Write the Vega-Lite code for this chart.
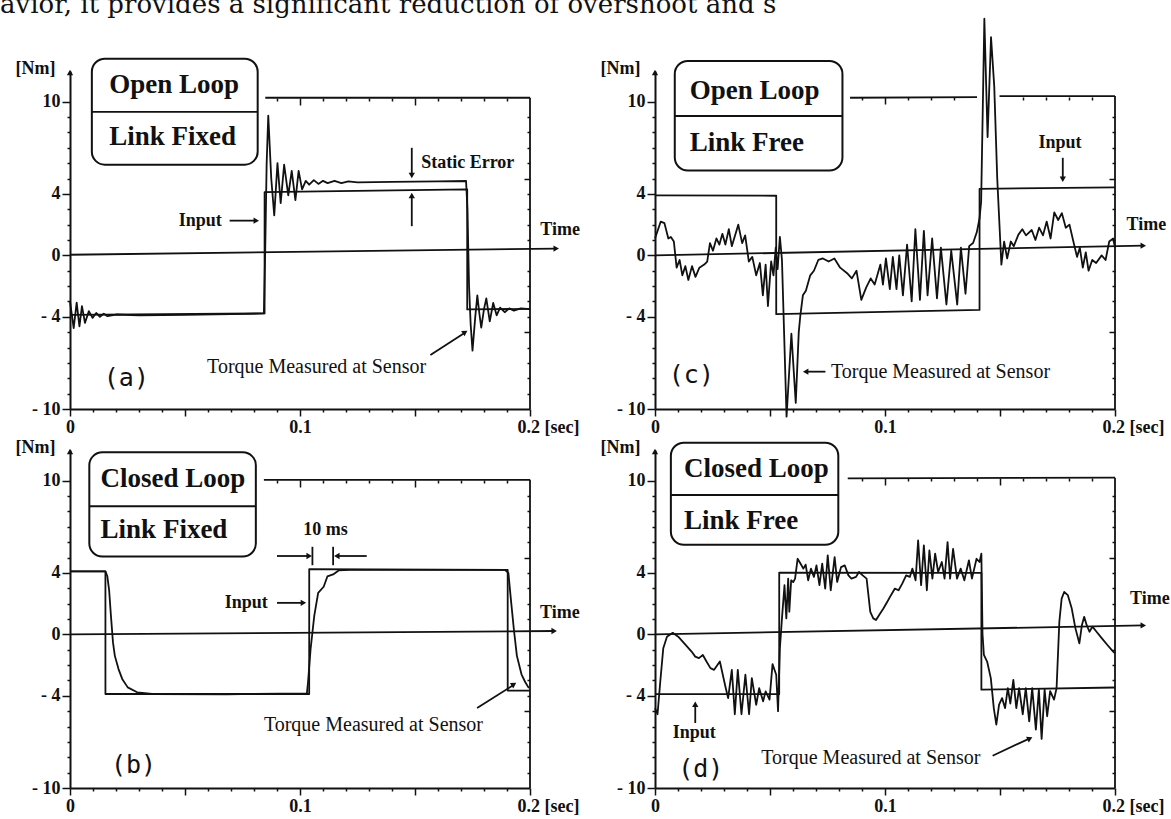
{
"$schema":"https://vega.github.io/schema/vega-lite/v6.json",
"autosize":{"type":"pad"},
"padding":{"left":0,"top":-8,"right":0,"bottom":0},
"background":"white",
"config":{"view":{"stroke":null},"font":"Liberation Serif",
"axis":{"domainColor":"#111","domainWidth":2,"tickColor":"#111","tickWidth":1.5,"labelFont":"Liberation Serif","labelFontWeight":"bold","labelFontSize":18,"labelColor":"#111","grid":false,"titleFont":"Liberation Serif","titleFontSize":18,"titleFontWeight":"bold","titleColor":"#111"}},
"datasets":{
"hdr":[{"t":-0.0304,"v":17.14,"label":"avior, it provides a significant reduction of overshoot and s"}],
"box":[
{"p":"a","t":0.0095,"v":12.8,"t2":0.0816,"v2":5.9},
{"p":"c","t":0.0086,"v":12.65,"t2":0.0815,"v2":5.52},
{"p":"b","t":0.0084,"v":11.85,"t2":0.0808,"v2":5.06},
{"p":"d","t":0.0069,"v":12.48,"t2":0.0797,"v2":5.83}],
"rules":[
{"p":"a","t":0,"v":0.04,"t2":0.2114,"v2":0.44},
{"p":"a","t":0.0849,"v":10.26,"t2":0.2,"v2":10.26},
{"p":"a","t":0.2,"v":10.26,"t2":0.2,"v2":-10},
{"p":"a","t":0.0095,"v":9.34,"t2":0.0816,"v2":9.34},
{"p":"a","t":0.0694,"v":2.26,"t2":0.0805,"v2":2.26},
{"p":"a","t":0.1486,"v":7.0,"t2":0.1486,"v2":5.3},
{"p":"a","t":0.1486,"v":1.9,"t2":0.1486,"v2":3.8},
{"p":"a","t":0.1567,"v":-6.48,"t2":0.1715,"v2":-5.05},
{"p":"c","t":0,"v":0,"t2":0.2123,"v2":0.63},
{"p":"c","t":0.0848,"v":10.26,"t2":0.14,"v2":10.3},
{"p":"c","t":0.1498,"v":10.37,"t2":0.2,"v2":10.37},
{"p":"c","t":0.2,"v":10.37,"t2":0.2,"v2":-10},
{"p":"c","t":0.0086,"v":9.07,"t2":0.0815,"v2":9.07},
{"p":"c","t":0.1773,"v":6.35,"t2":0.1773,"v2":5.1},
{"p":"c","t":0.0741,"v":-7.57,"t2":0.066,"v2":-7.57},
{"p":"b","t":0,"v":0,"t2":0.2105,"v2":0.22},
{"p":"b","t":0.0843,"v":10.06,"t2":0.2,"v2":10.06},
{"p":"b","t":0.2,"v":10.06,"t2":0.2,"v2":-10},
{"p":"b","t":0.0084,"v":8.34,"t2":0.0808,"v2":8.34},
{"p":"b","t":0.09,"v":2.05,"t2":0.101,"v2":2.05},
{"p":"b","t":0.09,"v":5.1,"t2":0.1035,"v2":5.1},
{"p":"b","t":0.1054,"v":5.7,"t2":0.1054,"v2":4.5},
{"p":"b","t":0.1144,"v":5.7,"t2":0.1144,"v2":4.5},
{"p":"b","t":0.129,"v":5.1,"t2":0.1165,"v2":5.1},
{"p":"b","t":0.177,"v":-4.8,"t2":0.1928,"v2":-3.3},
{"p":"d","t":0,"v":0,"t2":0.2123,"v2":0.58},
{"p":"d","t":0.0838,"v":10.15,"t2":0.2,"v2":10.2},
{"p":"d","t":0.2,"v":10.2,"t2":0.2,"v2":-10},
{"p":"d","t":0.0069,"v":9.07,"t2":0.0797,"v2":9.07},
{"p":"d","t":0.0175,"v":-5.77,"t2":0.0175,"v2":-4.7},
{"p":"d","t":0.1468,"v":-7.9,"t2":0.1625,"v2":-6.8}],
"heads":[
{"p":"a","d":"u","t":0,"v":11.9},{"p":"a","d":"r","t":0.2114,"v":0.44},{"p":"a","d":"r","t":0.081,"v":2.26},{"p":"a","d":"d","t":0.1486,"v":5.2},{"p":"a","d":"u","t":0.1486,"v":3.9},{"p":"a","d":"ur","t":0.1718,"v":-5.0},
{"p":"c","d":"u","t":0,"v":11.9},{"p":"c","d":"r","t":0.2123,"v":0.63},{"p":"c","d":"d","t":0.1773,"v":4.95},{"p":"c","d":"l","t":0.0655,"v":-7.57},
{"p":"b","d":"u","t":0,"v":11.9},{"p":"b","d":"r","t":0.2105,"v":0.22},{"p":"b","d":"r","t":0.1015,"v":2.05},{"p":"b","d":"r","t":0.104,"v":5.1},{"p":"b","d":"l","t":0.116,"v":5.1},{"p":"b","d":"ur","t":0.193,"v":-3.25},
{"p":"d","d":"u","t":0,"v":11.9},{"p":"d","d":"r","t":0.2123,"v":0.58},{"p":"d","d":"u","t":0.0175,"v":-4.55},{"p":"d","d":"ur","t":0.163,"v":-6.77}],
"txt":[
{"p":"a","k":"box","t":0.0171,"v":11.1,"label":"Open Loop"},{"p":"a","k":"box","t":0.0171,"v":7.7,"label":"Link Fixed"},
{"p":"a","k":"ann","t":0.1527,"v":6.04,"label":"Static Error"},{"p":"a","k":"ann","t":0.0473,"v":2.26,"label":"Input"},{"p":"a","k":"ann","t":0.2045,"v":1.65,"label":"Time"},
{"p":"a","k":"tq","t":0.0596,"v":-7.25,"label":"Torque Measured at Sensor"},{"p":"a","k":"let","t":0.0147,"v":-8.0,"label":"(a)"},
{"p":"c","k":"box","t":0.0151,"v":10.7,"label":"Open Loop"},{"p":"c","k":"box","t":0.0151,"v":7.3,"label":"Link Free"},
{"p":"c","k":"ann","t":0.1667,"v":7.3,"label":"Input"},{"p":"c","k":"ann","t":0.205,"v":2.0,"label":"Time"},
{"p":"c","k":"tq","t":0.0765,"v":-7.57,"label":"Torque Measured at Sensor"},{"p":"c","k":"let","t":0.006,"v":-7.8,"label":"(c)"},
{"p":"b","k":"box","t":0.0133,"v":10.1,"label":"Closed Loop"},{"p":"b","k":"box","t":0.0133,"v":6.8,"label":"Link Fixed"},
{"p":"b","k":"ann","t":0.1014,"v":6.8,"label":"10 ms"},{"p":"b","k":"ann","t":0.0673,"v":2.05,"label":"Input"},{"p":"b","k":"ann","t":0.2044,"v":1.4,"label":"Time"},
{"p":"b","k":"tq","t":0.0843,"v":-5.93,"label":"Torque Measured at Sensor"},{"p":"b","k":"let","t":0.0178,"v":-8.5,"label":"(b)"},
{"p":"d","k":"box","t":0.0126,"v":10.76,"label":"Closed Loop"},{"p":"d","k":"box","t":0.0126,"v":7.41,"label":"Link Free"},
{"p":"d","k":"ann","t":0.0077,"v":-6.41,"label":"Input"},{"p":"d","k":"ann","t":0.2065,"v":2.33,"label":"Time"},
{"p":"d","k":"tq","t":0.0462,"v":-8.03,"label":"Torque Measured at Sensor"},{"p":"d","k":"let","t":0.0101,"v":-8.79,"label":"(d)"}],
"sig":[
{"p":"a","s":"in","t":0,"v":-3.87},{"p":"a","s":"in","t":0.0846,"v":-3.78},{"p":"a","s":"in","t":0.08461,"v":4.11},{"p":"a","s":"in","t":0.1727,"v":4.29},{"p":"a","s":"in","t":0.17271,"v":-3.52},{"p":"a","s":"in","t":0.2,"v":-3.48},
{"p":"a","s":"tq","t":0,"v":-3.0},{"p":"a","s":"tq","t":0.0016,"v":-4.73},{"p":"a","s":"tq","t":0.0029,"v":-3.08},{"p":"a","s":"tq","t":0.0041,"v":-4.62},{"p":"a","s":"tq","t":0.0052,"v":-3.3},{"p":"a","s":"tq","t":0.0065,"v":-4.4},{"p":"a","s":"tq","t":0.0082,"v":-3.63},{"p":"a","s":"tq","t":0.0098,"v":-4.07},{"p":"a","s":"tq","t":0.0114,"v":-3.75},{"p":"a","s":"tq","t":0.013,"v":-4.0},{"p":"a","s":"tq","t":0.0147,"v":-3.8},{"p":"a","s":"tq","t":0.0163,"v":-3.96},{"p":"a","s":"tq","t":0.02,"v":-3.85},{"p":"a","s":"tq","t":0.03,"v":-3.9},{"p":"a","s":"tq","t":0.05,"v":-3.88},{"p":"a","s":"tq","t":0.07,"v":-3.82},{"p":"a","s":"tq","t":0.0843,"v":-3.78},{"p":"a","s":"tq","t":0.0849,"v":0.5},{"p":"a","s":"tq","t":0.0855,"v":6.0},{"p":"a","s":"tq","t":0.0862,"v":9.1},{"p":"a","s":"tq","t":0.0875,"v":5.0},{"p":"a","s":"tq","t":0.0888,"v":2.6},{"p":"a","s":"tq","t":0.0902,"v":6.0},{"p":"a","s":"tq","t":0.0916,"v":3.4},{"p":"a","s":"tq","t":0.0931,"v":5.9},{"p":"a","s":"tq","t":0.0949,"v":3.9},{"p":"a","s":"tq","t":0.0964,"v":5.5},{"p":"a","s":"tq","t":0.098,"v":3.6},{"p":"a","s":"tq","t":0.0994,"v":5.5},{"p":"a","s":"tq","t":0.1009,"v":4.3},{"p":"a","s":"tq","t":0.1025,"v":4.85},{"p":"a","s":"tq","t":0.104,"v":4.6},{"p":"a","s":"tq","t":0.106,"v":4.9},{"p":"a","s":"tq","t":0.108,"v":4.65},{"p":"a","s":"tq","t":0.11,"v":4.85},{"p":"a","s":"tq","t":0.112,"v":4.7},{"p":"a","s":"tq","t":0.115,"v":4.85},{"p":"a","s":"tq","t":0.118,"v":4.7},{"p":"a","s":"tq","t":0.121,"v":4.82},{"p":"a","s":"tq","t":0.125,"v":4.75},{"p":"a","s":"tq","t":0.14,"v":4.78},{"p":"a","s":"tq","t":0.16,"v":4.82},{"p":"a","s":"tq","t":0.1722,"v":4.84},{"p":"a","s":"tq","t":0.1728,"v":3.0},{"p":"a","s":"tq","t":0.1735,"v":-2.0},{"p":"a","s":"tq","t":0.1742,"v":-4.5},{"p":"a","s":"tq","t":0.175,"v":-6.2},{"p":"a","s":"tq","t":0.1762,"v":-4.0},{"p":"a","s":"tq","t":0.1771,"v":-2.6},{"p":"a","s":"tq","t":0.178,"v":-3.8},{"p":"a","s":"tq","t":0.1788,"v":-4.7},{"p":"a","s":"tq","t":0.18,"v":-3.5},{"p":"a","s":"tq","t":0.181,"v":-2.8},{"p":"a","s":"tq","t":0.1825,"v":-4.3},{"p":"a","s":"tq","t":0.184,"v":-3.1},{"p":"a","s":"tq","t":0.1855,"v":-3.9},{"p":"a","s":"tq","t":0.187,"v":-3.4},{"p":"a","s":"tq","t":0.189,"v":-3.7},{"p":"a","s":"tq","t":0.191,"v":-3.45},{"p":"a","s":"tq","t":0.193,"v":-3.6},{"p":"a","s":"tq","t":0.196,"v":-3.45},{"p":"a","s":"tq","t":0.2,"v":-3.5},
{"p":"c","s":"in","t":0,"v":3.9},{"p":"c","s":"in","t":0.0527,"v":3.88},{"p":"c","s":"in","t":0.05271,"v":-3.83},{"p":"c","s":"in","t":0.1411,"v":-3.55},{"p":"c","s":"in","t":0.14111,"v":4.33},{"p":"c","s":"in","t":0.2,"v":4.43},
{"p":"c","s":"tq","t":0,"v":1.1},{"p":"c","s":"tq","t":0.0025,"v":2.2},{"p":"c","s":"tq","t":0.0041,"v":2.1},{"p":"c","s":"tq","t":0.0058,"v":1.1},{"p":"c","s":"tq","t":0.0069,"v":1.2},{"p":"c","s":"tq","t":0.0082,"v":0.9},{"p":"c","s":"tq","t":0.0094,"v":-0.8},{"p":"c","s":"tq","t":0.0107,"v":-0.3},{"p":"c","s":"tq","t":0.0119,"v":-1.3},{"p":"c","s":"tq","t":0.0132,"v":-0.7},{"p":"c","s":"tq","t":0.0145,"v":-1.6},{"p":"c","s":"tq","t":0.0161,"v":-0.7},{"p":"c","s":"tq","t":0.0176,"v":-1.4},{"p":"c","s":"tq","t":0.0193,"v":-0.8},{"p":"c","s":"tq","t":0.0214,"v":-0.6},{"p":"c","s":"tq","t":0.0227,"v":-0.4},{"p":"c","s":"tq","t":0.0239,"v":0.8},{"p":"c","s":"tq","t":0.0252,"v":0.3},{"p":"c","s":"tq","t":0.0267,"v":1.1},{"p":"c","s":"tq","t":0.028,"v":0.7},{"p":"c","s":"tq","t":0.0293,"v":1.4},{"p":"c","s":"tq","t":0.0306,"v":0.7},{"p":"c","s":"tq","t":0.0321,"v":1.7},{"p":"c","s":"tq","t":0.0334,"v":0.6},{"p":"c","s":"tq","t":0.0362,"v":2.0},{"p":"c","s":"tq","t":0.0379,"v":0.8},{"p":"c","s":"tq","t":0.0392,"v":1.3},{"p":"c","s":"tq","t":0.0408,"v":-0.4},{"p":"c","s":"tq","t":0.0423,"v":-0.1},{"p":"c","s":"tq","t":0.044,"v":-1.3},{"p":"c","s":"tq","t":0.0456,"v":-0.5},{"p":"c","s":"tq","t":0.0469,"v":-2.6},{"p":"c","s":"tq","t":0.0481,"v":-0.6},{"p":"c","s":"tq","t":0.0491,"v":-3.3},{"p":"c","s":"tq","t":0.0505,"v":-0.4},{"p":"c","s":"tq","t":0.0515,"v":-1.3},{"p":"c","s":"tq","t":0.0525,"v":0.5},{"p":"c","s":"tq","t":0.0533,"v":-0.9},{"p":"c","s":"tq","t":0.0543,"v":1.2},{"p":"c","s":"tq","t":0.0552,"v":-0.3},{"p":"c","s":"tq","t":0.0572,"v":-10.5},{"p":"c","s":"tq","t":0.0593,"v":-5.1},{"p":"c","s":"tq","t":0.0612,"v":-9.6},{"p":"c","s":"tq","t":0.0625,"v":-5.0},{"p":"c","s":"tq","t":0.0632,"v":-3.9},{"p":"c","s":"tq","t":0.0643,"v":-2.6},{"p":"c","s":"tq","t":0.0656,"v":-2.3},{"p":"c","s":"tq","t":0.0675,"v":-1.3},{"p":"c","s":"tq","t":0.0691,"v":-1.0},{"p":"c","s":"tq","t":0.071,"v":-0.3},{"p":"c","s":"tq","t":0.073,"v":-0.2},{"p":"c","s":"tq","t":0.0755,"v":-0.4},{"p":"c","s":"tq","t":0.078,"v":-0.2},{"p":"c","s":"tq","t":0.0805,"v":-0.8},{"p":"c","s":"tq","t":0.0838,"v":-1.2},{"p":"c","s":"tq","t":0.0856,"v":-1.5},{"p":"c","s":"tq","t":0.0876,"v":-1.0},{"p":"c","s":"tq","t":0.0897,"v":-2.9},{"p":"c","s":"tq","t":0.0918,"v":-2.1},{"p":"c","s":"tq","t":0.0938,"v":-1.5},{"p":"c","s":"tq","t":0.0955,"v":-1.9},{"p":"c","s":"tq","t":0.098,"v":-0.6},{"p":"c","s":"tq","t":0.0991,"v":-1.9},{"p":"c","s":"tq","t":0.1004,"v":-0.2},{"p":"c","s":"tq","t":0.1021,"v":-2.2},{"p":"c","s":"tq","t":0.1034,"v":-0.1},{"p":"c","s":"tq","t":0.105,"v":-2.2},{"p":"c","s":"tq","t":0.1062,"v":0.0},{"p":"c","s":"tq","t":0.1078,"v":-2.6},{"p":"c","s":"tq","t":0.1096,"v":0.7},{"p":"c","s":"tq","t":0.1116,"v":-3.0},{"p":"c","s":"tq","t":0.1132,"v":1.7},{"p":"c","s":"tq","t":0.1152,"v":-2.9},{"p":"c","s":"tq","t":0.1169,"v":1.6},{"p":"c","s":"tq","t":0.1185,"v":-2.6},{"p":"c","s":"tq","t":0.1205,"v":1.1},{"p":"c","s":"tq","t":0.1226,"v":-2.8},{"p":"c","s":"tq","t":0.1243,"v":0.5},{"p":"c","s":"tq","t":0.1267,"v":-3.2},{"p":"c","s":"tq","t":0.1288,"v":0.3},{"p":"c","s":"tq","t":0.1314,"v":-3.2},{"p":"c","s":"tq","t":0.133,"v":0.5},{"p":"c","s":"tq","t":0.135,"v":-2.5},{"p":"c","s":"tq","t":0.1366,"v":0.6},{"p":"c","s":"tq","t":0.1383,"v":0.8},{"p":"c","s":"tq","t":0.1399,"v":1.5},{"p":"c","s":"tq","t":0.1411,"v":2.4},{"p":"c","s":"tq","t":0.1418,"v":3.5},{"p":"c","s":"tq","t":0.1432,"v":15.4},{"p":"c","s":"tq","t":0.1446,"v":7.7},{"p":"c","s":"tq","t":0.1461,"v":14.2},{"p":"c","s":"tq","t":0.1475,"v":11.0},{"p":"c","s":"tq","t":0.1488,"v":5.0},{"p":"c","s":"tq","t":0.1506,"v":-0.6},{"p":"c","s":"tq","t":0.1518,"v":0.9},{"p":"c","s":"tq","t":0.1531,"v":-0.2},{"p":"c","s":"tq","t":0.1547,"v":0.9},{"p":"c","s":"tq","t":0.156,"v":0.6},{"p":"c","s":"tq","t":0.158,"v":1.35},{"p":"c","s":"tq","t":0.1597,"v":1.7},{"p":"c","s":"tq","t":0.1613,"v":1.3},{"p":"c","s":"tq","t":0.1638,"v":1.65},{"p":"c","s":"tq","t":0.1654,"v":1.0},{"p":"c","s":"tq","t":0.167,"v":1.8},{"p":"c","s":"tq","t":0.1687,"v":1.3},{"p":"c","s":"tq","t":0.1703,"v":2.2},{"p":"c","s":"tq","t":0.172,"v":1.1},{"p":"c","s":"tq","t":0.1736,"v":2.8},{"p":"c","s":"tq","t":0.1753,"v":2.3},{"p":"c","s":"tq","t":0.1769,"v":2.75},{"p":"c","s":"tq","t":0.1786,"v":1.8},{"p":"c","s":"tq","t":0.1802,"v":2.0},{"p":"c","s":"tq","t":0.1819,"v":0.9},{"p":"c","s":"tq","t":0.1835,"v":-0.1},{"p":"c","s":"tq","t":0.1847,"v":0.5},{"p":"c","s":"tq","t":0.186,"v":-0.8},{"p":"c","s":"tq","t":0.1873,"v":0.2},{"p":"c","s":"tq","t":0.1885,"v":-1.0},{"p":"c","s":"tq","t":0.1901,"v":-0.3},{"p":"c","s":"tq","t":0.1918,"v":-0.5},{"p":"c","s":"tq","t":0.1942,"v":0.0},{"p":"c","s":"tq","t":0.1959,"v":-0.3},{"p":"c","s":"tq","t":0.1975,"v":0.9},{"p":"c","s":"tq","t":0.1992,"v":1.1},{"p":"c","s":"tq","t":0.2,"v":0.5},
{"p":"b","s":"in","t":0,"v":4.1},{"p":"b","s":"in","t":0.0154,"v":4.1},{"p":"b","s":"in","t":0.01541,"v":-3.88},{"p":"b","s":"in","t":0.104,"v":-3.88},{"p":"b","s":"in","t":0.10401,"v":4.25},{"p":"b","s":"in","t":0.1903,"v":4.2},{"p":"b","s":"in","t":0.19031,"v":-3.66},{"p":"b","s":"in","t":0.2,"v":-3.66},
{"p":"b","s":"tq","t":0,"v":4.1},{"p":"b","s":"tq","t":0.0154,"v":4.1},{"p":"b","s":"tq","t":0.0162,"v":3.8},{"p":"b","s":"tq","t":0.017,"v":2.9},{"p":"b","s":"tq","t":0.0178,"v":1.2},{"p":"b","s":"tq","t":0.0187,"v":-0.54},{"p":"b","s":"tq","t":0.0195,"v":-1.4},{"p":"b","s":"tq","t":0.0211,"v":-2.26},{"p":"b","s":"tq","t":0.0227,"v":-2.9},{"p":"b","s":"tq","t":0.0251,"v":-3.45},{"p":"b","s":"tq","t":0.0292,"v":-3.77},{"p":"b","s":"tq","t":0.0357,"v":-3.88},{"p":"b","s":"tq","t":0.0681,"v":-3.9},{"p":"b","s":"tq","t":0.103,"v":-3.84},{"p":"b","s":"tq","t":0.1035,"v":-3.1},{"p":"b","s":"tq","t":0.1046,"v":-0.97},{"p":"b","s":"tq","t":0.1062,"v":1.2},{"p":"b","s":"tq","t":0.1079,"v":2.7},{"p":"b","s":"tq","t":0.1103,"v":3.1},{"p":"b","s":"tq","t":0.1119,"v":3.77},{"p":"b","s":"tq","t":0.1144,"v":3.9},{"p":"b","s":"tq","t":0.1168,"v":4.16},{"p":"b","s":"tq","t":0.1217,"v":4.2},{"p":"b","s":"tq","t":0.1492,"v":4.2},{"p":"b","s":"tq","t":0.189,"v":4.2},{"p":"b","s":"tq","t":0.1906,"v":4.0},{"p":"b","s":"tq","t":0.1917,"v":2.26},{"p":"b","s":"tq","t":0.193,"v":0.3},{"p":"b","s":"tq","t":0.1943,"v":-1.4},{"p":"b","s":"tq","t":0.1963,"v":-2.6},{"p":"b","s":"tq","t":0.1979,"v":-3.1},{"p":"b","s":"tq","t":0.1995,"v":-3.5},
{"p":"d","s":"in","t":0,"v":-3.89},{"p":"d","s":"in","t":0.054,"v":-3.89},{"p":"d","s":"in","t":0.05401,"v":4.02},{"p":"d","s":"in","t":0.1419,"v":4.0},{"p":"d","s":"in","t":0.14191,"v":-3.6},{"p":"d","s":"in","t":0.2,"v":-3.46},
{"p":"d","s":"tq","t":0,"v":-4.8},{"p":"d","s":"tq","t":0.0011,"v":-5.2},{"p":"d","s":"tq","t":0.0023,"v":-3.07},{"p":"d","s":"tq","t":0.0036,"v":-0.9},{"p":"d","s":"tq","t":0.0052,"v":-0.15},{"p":"d","s":"tq","t":0.0077,"v":0.1},{"p":"d","s":"tq","t":0.0101,"v":-0.15},{"p":"d","s":"tq","t":0.0134,"v":-0.7},{"p":"d","s":"tq","t":0.0159,"v":-1.12},{"p":"d","s":"tq","t":0.0175,"v":-1.45},{"p":"d","s":"tq","t":0.0191,"v":-1.55},{"p":"d","s":"tq","t":0.0208,"v":-1.34},{"p":"d","s":"tq","t":0.0224,"v":-1.77},{"p":"d","s":"tq","t":0.0241,"v":-2.2},{"p":"d","s":"tq","t":0.0257,"v":-2.31},{"p":"d","s":"tq","t":0.0282,"v":-1.77},{"p":"d","s":"tq","t":0.0306,"v":-3.39},{"p":"d","s":"tq","t":0.0318,"v":-4.15},{"p":"d","s":"tq","t":0.0334,"v":-2.31},{"p":"d","s":"tq","t":0.0347,"v":-5.2},{"p":"d","s":"tq","t":0.036,"v":-2.31},{"p":"d","s":"tq","t":0.0376,"v":-5.2},{"p":"d","s":"tq","t":0.0393,"v":-2.63},{"p":"d","s":"tq","t":0.0409,"v":-5.2},{"p":"d","s":"tq","t":0.0421,"v":-2.85},{"p":"d","s":"tq","t":0.044,"v":-4.58},{"p":"d","s":"tq","t":0.0453,"v":-3.5},{"p":"d","s":"tq","t":0.047,"v":-4.36},{"p":"d","s":"tq","t":0.0481,"v":-3.71},{"p":"d","s":"tq","t":0.0498,"v":-4.25},{"p":"d","s":"tq","t":0.0511,"v":-1.94},{"p":"d","s":"tq","t":0.0527,"v":-2.63},{"p":"d","s":"tq","t":0.0535,"v":-5.0},{"p":"d","s":"tq","t":0.0543,"v":-0.9},{"p":"d","s":"tq","t":0.0552,"v":1.04},{"p":"d","s":"tq","t":0.0563,"v":3.2},{"p":"d","s":"tq","t":0.0571,"v":1.04},{"p":"d","s":"tq","t":0.0579,"v":3.63},{"p":"d","s":"tq","t":0.0584,"v":1.47},{"p":"d","s":"tq","t":0.0592,"v":3.52},{"p":"d","s":"tq","t":0.0601,"v":3.4},{"p":"d","s":"tq","t":0.0609,"v":3.63},{"p":"d","s":"tq","t":0.062,"v":4.92},{"p":"d","s":"tq","t":0.0633,"v":4.6},{"p":"d","s":"tq","t":0.0645,"v":4.28},{"p":"d","s":"tq","t":0.0655,"v":4.54},{"p":"d","s":"tq","t":0.0666,"v":3.52},{"p":"d","s":"tq","t":0.0678,"v":4.28},{"p":"d","s":"tq","t":0.0691,"v":3.74},{"p":"d","s":"tq","t":0.0702,"v":4.49},{"p":"d","s":"tq","t":0.0715,"v":3.2},{"p":"d","s":"tq","t":0.0727,"v":4.6},{"p":"d","s":"tq","t":0.074,"v":2.98},{"p":"d","s":"tq","t":0.0751,"v":5.14},{"p":"d","s":"tq","t":0.0764,"v":2.87},{"p":"d","s":"tq","t":0.0781,"v":5.03},{"p":"d","s":"tq","t":0.0792,"v":3.41},{"p":"d","s":"tq","t":0.0809,"v":4.38},{"p":"d","s":"tq","t":0.0825,"v":4.49},{"p":"d","s":"tq","t":0.0841,"v":3.84},{"p":"d","s":"tq","t":0.0854,"v":3.63},{"p":"d","s":"tq","t":0.0874,"v":3.74},{"p":"d","s":"tq","t":0.0887,"v":4.06},{"p":"d","s":"tq","t":0.0903,"v":3.84},{"p":"d","s":"tq","t":0.092,"v":3.63},{"p":"d","s":"tq","t":0.0936,"v":1.47},{"p":"d","s":"tq","t":0.0949,"v":1.04},{"p":"d","s":"tq","t":0.0961,"v":0.93},{"p":"d","s":"tq","t":0.0974,"v":1.25},{"p":"d","s":"tq","t":0.0993,"v":1.68},{"p":"d","s":"tq","t":0.101,"v":2.12},{"p":"d","s":"tq","t":0.1026,"v":2.55},{"p":"d","s":"tq","t":0.1043,"v":2.98},{"p":"d","s":"tq","t":0.1059,"v":2.87},{"p":"d","s":"tq","t":0.1075,"v":3.3},{"p":"d","s":"tq","t":0.1092,"v":3.84},{"p":"d","s":"tq","t":0.1108,"v":3.74},{"p":"d","s":"tq","t":0.1119,"v":4.28},{"p":"d","s":"tq","t":0.1133,"v":3.52},{"p":"d","s":"tq","t":0.1144,"v":6.11},{"p":"d","s":"tq","t":0.1157,"v":3.2},{"p":"d","s":"tq","t":0.1169,"v":5.79},{"p":"d","s":"tq","t":0.1182,"v":2.87},{"p":"d","s":"tq","t":0.1193,"v":5.46},{"p":"d","s":"tq","t":0.1206,"v":3.63},{"p":"d","s":"tq","t":0.1218,"v":5.25},{"p":"d","s":"tq","t":0.1231,"v":4.06},{"p":"d","s":"tq","t":0.1247,"v":4.71},{"p":"d","s":"tq","t":0.1259,"v":3.63},{"p":"d","s":"tq","t":0.1272,"v":6.0},{"p":"d","s":"tq","t":0.1283,"v":3.63},{"p":"d","s":"tq","t":0.1296,"v":5.57},{"p":"d","s":"tq","t":0.1313,"v":3.63},{"p":"d","s":"tq","t":0.1329,"v":4.28},{"p":"d","s":"tq","t":0.1345,"v":3.52},{"p":"d","s":"tq","t":0.1365,"v":4.82},{"p":"d","s":"tq","t":0.1378,"v":3.63},{"p":"d","s":"tq","t":0.1398,"v":4.92},{"p":"d","s":"tq","t":0.1411,"v":4.71},{"p":"d","s":"tq","t":0.1419,"v":5.25},{"p":"d","s":"tq","t":0.1424,"v":0},{"p":"d","s":"tq","t":0.143,"v":-1.34},{"p":"d","s":"tq","t":0.1444,"v":-1.77},{"p":"d","s":"tq","t":0.146,"v":-2.85},{"p":"d","s":"tq","t":0.1473,"v":-4.8},{"p":"d","s":"tq","t":0.1484,"v":-5.87},{"p":"d","s":"tq","t":0.1496,"v":-4.58},{"p":"d","s":"tq","t":0.1509,"v":-4.15},{"p":"d","s":"tq","t":0.1522,"v":-4.8},{"p":"d","s":"tq","t":0.1534,"v":-3.5},{"p":"d","s":"tq","t":0.1545,"v":-4.5},{"p":"d","s":"tq","t":0.1558,"v":-2.96},{"p":"d","s":"tq","t":0.1571,"v":-4.8},{"p":"d","s":"tq","t":0.1583,"v":-3.5},{"p":"d","s":"tq","t":0.1599,"v":-5.2},{"p":"d","s":"tq","t":0.1612,"v":-3.5},{"p":"d","s":"tq","t":0.1627,"v":-5.66},{"p":"d","s":"tq","t":0.164,"v":-3.5},{"p":"d","s":"tq","t":0.1656,"v":-6.2},{"p":"d","s":"tq","t":0.1669,"v":-3.6},{"p":"d","s":"tq","t":0.1681,"v":-6.8},{"p":"d","s":"tq","t":0.1694,"v":-3.6},{"p":"d","s":"tq","t":0.1705,"v":-5.33},{"p":"d","s":"tq","t":0.1718,"v":-3.7},{"p":"d","s":"tq","t":0.1735,"v":-4.25},{"p":"d","s":"tq","t":0.1746,"v":-3.5},{"p":"d","s":"tq","t":0.1758,"v":0.82},{"p":"d","s":"tq","t":0.1768,"v":2.33},{"p":"d","s":"tq","t":0.1779,"v":2.76},{"p":"d","s":"tq","t":0.1795,"v":2.55},{"p":"d","s":"tq","t":0.1812,"v":1.68},{"p":"d","s":"tq","t":0.1828,"v":0.39},{"p":"d","s":"tq","t":0.1845,"v":-0.58},{"p":"d","s":"tq","t":0.1856,"v":0.6},{"p":"d","s":"tq","t":0.1866,"v":1.14},{"p":"d","s":"tq","t":0.1877,"v":0.6},{"p":"d","s":"tq","t":0.1889,"v":0.17},{"p":"d","s":"tq","t":0.1902,"v":0.5},{"p":"d","s":"tq","t":0.1918,"v":0.2},{"p":"d","s":"tq","t":0.1943,"v":-0.26},{"p":"d","s":"tq","t":0.1967,"v":-0.69},{"p":"d","s":"tq","t":0.1992,"v":-1.12},{"p":"d","s":"tq","t":0.2,"v":-1.23}]
},
"concat":[
{"width":460,"height":338,
"encoding":{"x":{"field":"t","type":"quantitative","scale":{"domain":[0,0.2],"nice":false,"zero":false},"axis":null},"y":{"field":"v","type":"quantitative","scale":{"domain":[-10,12],"nice":false,"zero":false},"axis":null}},
"layer":[
{"data":{"name":"hdr"},"mark":{"type":"text","font":"DejaVu Serif","fontSize":26,"align":"left","baseline":"top","color":"#111"},"encoding":{"text":{"field":"label"}}},
{"data":{"name":"box"},"transform":[{"filter":"datum.p=='a'"}],"mark":{"type":"rect","cornerRadius":13,"fill":"white","stroke":"#111","strokeWidth":2},"encoding":{"x2":{"field":"t2"},"y2":{"field":"v2"}}},
{"data":{"name":"rules"},"transform":[{"filter":"datum.p=='a'"}],"mark":{"type":"rule","color":"#111","strokeWidth":1.8},"encoding":{
"x":{"field":"t","type":"quantitative","scale":{"domain":[0,0.2],"nice":false,"zero":false},"axis":{"orient":"bottom","offset":-311,"values":[0.09,0.1,0.11,0.12,0.13,0.14,0.15,0.16,0.17,0.18,0.19],"labels":false,"domain":false,"title":null,"tickSize":{"condition":{"test":"round(datum.value*100)%5==0","value":7},"value":3}}},
"y":{"field":"v","type":"quantitative","scale":{"domain":[-10,12],"nice":false,"zero":false},"axis":{"orient":"left","offset":-460,"values":[-9,-8,-7,-6,-5,-4,-3,-2,-1,1,2,3,4,5,6,7,8,9],"labels":false,"domain":false,"title":null,"tickSize":{"condition":{"test":"abs(datum.value)==5","value":6},"value":3}}},
"x2":{"field":"t2"},"y2":{"field":"v2"}}},
{"data":{"name":"sig"},"transform":[{"filter":"datum.p=='a'"}],"mark":{"type":"line","color":"#111","strokeWidth":1.8,"strokeJoin":"round"},"encoding":{
"x":{"field":"t","type":"quantitative","scale":{"domain":[0,0.2],"nice":false,"zero":false},"axis":{"orient":"bottom","values":[0,0.01,0.02,0.03,0.04,0.05,0.06,0.07,0.08,0.09,0.1,0.11,0.12,0.13,0.14,0.15,0.16,0.17,0.18,0.19,0.2],"labelExpr":"datum.value==0?'0':round(datum.value*100)==10?'0.1':round(datum.value*100)==20?'0.2 [sec]':''","labelFlush":false,"labelOverlap":false,"labelPadding":2,"title":null,"tickSize":{"condition":{"test":"round(datum.value*100)%5==0","value":7},"value":3},"labelAlign":{"condition":{"test":"datum.value>0.19","value":"left"},"value":"center"},"labelOffset":{"condition":{"test":"datum.value>0.19","value":-13},"value":0}}},
"y":{"field":"v","type":"quantitative","scale":{"domain":[-10,12],"nice":false,"zero":false},"axis":{"orient":"left","values":[-10,-9,-8,-7,-6,-5,-4,-3,-2,-1,0,1,2,3,4,5,6,7,8,9,10],"labelExpr":"datum.value==10?'10':datum.value==4?'4':datum.value==0?'0':datum.value==-4?'- 4':datum.value==-10?'- 10':''","labelOverlap":false,"labelFlush":false,"labelPadding":2,"tickSize":{"condition":{"test":"datum.value==10||datum.value==4||datum.value==0||datum.value==-4||datum.value==-10","value":8},"value":3},"title":"[Nm]","titleAngle":0,"titleAlign":"left","titleBaseline":"middle","titleX":-55,"titleY":-3}},
"detail":{"field":"s"}}},
{"data":{"name":"txt"},"transform":[{"filter":"datum.p=='a' && datum.k=='box'"}],"mark":{"type":"text","font":"Liberation Serif","fontSize":27,"fontWeight":"bold","align":"left","baseline":"middle","color":"#111"},"encoding":{"text":{"field":"label"}}},
{"data":{"name":"txt"},"transform":[{"filter":"datum.p=='a' && datum.k=='ann'"}],"mark":{"type":"text","font":"Liberation Serif","fontSize":18,"fontWeight":"bold","align":"left","baseline":"middle","color":"#111"},"encoding":{"text":{"field":"label"}}},
{"data":{"name":"txt"},"transform":[{"filter":"datum.p=='a' && datum.k=='tq'"}],"mark":{"type":"text","font":"Liberation Serif","fontSize":20,"align":"left","baseline":"middle","color":"#111"},"encoding":{"text":{"field":"label"}}},
{"data":{"name":"txt"},"transform":[{"filter":"datum.p=='a' && datum.k=='let'"}],"mark":{"type":"text","font":"DejaVu Sans Mono","fontSize":25,"align":"left","baseline":"middle","color":"#111"},"encoding":{"text":{"field":"label"}}},
{"data":{"name":"heads"},"transform":[{"filter":"datum.p=='a' && datum.d=='u'"}],"mark":{"type":"point","shape":"triangle-up","filled":true,"size":40,"color":"#111","opacity":1},"encoding":{}},
{"data":{"name":"heads"},"transform":[{"filter":"datum.p=='a' && datum.d=='d'"}],"mark":{"type":"point","shape":"triangle-down","filled":true,"size":40,"color":"#111","opacity":1},"encoding":{}},
{"data":{"name":"heads"},"transform":[{"filter":"datum.p=='a' && datum.d=='r'"}],"mark":{"type":"point","shape":"triangle-right","filled":true,"size":40,"color":"#111","opacity":1},"encoding":{}},
{"data":{"name":"heads"},"transform":[{"filter":"datum.p=='a' && datum.d=='ur'"}],"mark":{"type":"point","shape":"triangle-up","angle":57,"filled":true,"size":40,"color":"#111","opacity":1},"encoding":{}}
],
"resolve":{"axis":{"x":"independent","y":"independent"}}},
{"width":460,"height":338,
"encoding":{"x":{"field":"t","type":"quantitative","scale":{"domain":[0,0.2],"nice":false,"zero":false},"axis":null},"y":{"field":"v","type":"quantitative","scale":{"domain":[-10,12],"nice":false,"zero":false},"axis":null}},
"layer":[
{"data":{"name":"box"},"transform":[{"filter":"datum.p=='c'"}],"mark":{"type":"rect","cornerRadius":13,"fill":"white","stroke":"#111","strokeWidth":2},"encoding":{"x2":{"field":"t2"},"y2":{"field":"v2"}}},
{"data":{"name":"rules"},"transform":[{"filter":"datum.p=='c'"}],"mark":{"type":"rule","color":"#111","strokeWidth":1.8},"encoding":{
"x":{"field":"t","type":"quantitative","scale":{"domain":[0,0.2],"nice":false,"zero":false},"axis":{"orient":"bottom","offset":-312,"values":[0.09,0.1,0.11,0.12,0.13,0.16,0.17,0.18,0.19],"labels":false,"domain":false,"title":null,"tickSize":{"condition":{"test":"round(datum.value*100)%5==0","value":7},"value":3}}},
"y":{"field":"v","type":"quantitative","scale":{"domain":[-10,12],"nice":false,"zero":false},"axis":{"orient":"left","offset":-460,"values":[-9,-8,-7,-6,-5,-4,-3,-2,-1,1,2,3,4,5,6,7,8,9],"labels":false,"domain":false,"title":null,"tickSize":{"condition":{"test":"abs(datum.value)==5","value":6},"value":3}}},
"x2":{"field":"t2"},"y2":{"field":"v2"}}},
{"data":{"name":"sig"},"transform":[{"filter":"datum.p=='c'"}],"mark":{"type":"line","color":"#111","strokeWidth":1.8,"strokeJoin":"round"},"encoding":{
"x":{"field":"t","type":"quantitative","scale":{"domain":[0,0.2],"nice":false,"zero":false},"axis":{"orient":"bottom","values":[0,0.01,0.02,0.03,0.04,0.05,0.06,0.07,0.08,0.09,0.1,0.11,0.12,0.13,0.14,0.15,0.16,0.17,0.18,0.19,0.2],"labelExpr":"datum.value==0?'0':round(datum.value*100)==10?'0.1':round(datum.value*100)==20?'0.2 [sec]':''","labelFlush":false,"labelOverlap":false,"labelPadding":2,"title":null,"tickSize":{"condition":{"test":"round(datum.value*100)%5==0","value":7},"value":3},"labelAlign":{"condition":{"test":"datum.value>0.19","value":"left"},"value":"center"},"labelOffset":{"condition":{"test":"datum.value>0.19","value":-13},"value":0}}},
"y":{"field":"v","type":"quantitative","scale":{"domain":[-10,12],"nice":false,"zero":false},"axis":{"orient":"left","values":[-10,-9,-8,-7,-6,-5,-4,-3,-2,-1,0,1,2,3,4,5,6,7,8,9,10],"labelExpr":"datum.value==10?'10':datum.value==4?'4':datum.value==0?'0':datum.value==-4?'- 4':datum.value==-10?'- 10':''","labelOverlap":false,"labelFlush":false,"labelPadding":2,"tickSize":{"condition":{"test":"datum.value==10||datum.value==4||datum.value==0||datum.value==-4||datum.value==-10","value":8},"value":3},"title":"[Nm]","titleAngle":0,"titleAlign":"left","titleBaseline":"middle","titleX":-55,"titleY":-3}},
"detail":{"field":"s"}}},
{"data":{"name":"txt"},"transform":[{"filter":"datum.p=='c' && datum.k=='box'"}],"mark":{"type":"text","font":"Liberation Serif","fontSize":27,"fontWeight":"bold","align":"left","baseline":"middle","color":"#111"},"encoding":{"text":{"field":"label"}}},
{"data":{"name":"txt"},"transform":[{"filter":"datum.p=='c' && datum.k=='ann'"}],"mark":{"type":"text","font":"Liberation Serif","fontSize":18,"fontWeight":"bold","align":"left","baseline":"middle","color":"#111"},"encoding":{"text":{"field":"label"}}},
{"data":{"name":"txt"},"transform":[{"filter":"datum.p=='c' && datum.k=='tq'"}],"mark":{"type":"text","font":"Liberation Serif","fontSize":20,"align":"left","baseline":"middle","color":"#111"},"encoding":{"text":{"field":"label"}}},
{"data":{"name":"txt"},"transform":[{"filter":"datum.p=='c' && datum.k=='let'"}],"mark":{"type":"text","font":"DejaVu Sans Mono","fontSize":25,"align":"left","baseline":"middle","color":"#111"},"encoding":{"text":{"field":"label"}}},
{"data":{"name":"heads"},"transform":[{"filter":"datum.p=='c' && datum.d=='u'"}],"mark":{"type":"point","shape":"triangle-up","filled":true,"size":40,"color":"#111","opacity":1},"encoding":{}},
{"data":{"name":"heads"},"transform":[{"filter":"datum.p=='c' && datum.d=='d'"}],"mark":{"type":"point","shape":"triangle-down","filled":true,"size":40,"color":"#111","opacity":1},"encoding":{}},
{"data":{"name":"heads"},"transform":[{"filter":"datum.p=='c' && datum.d=='r'"}],"mark":{"type":"point","shape":"triangle-right","filled":true,"size":40,"color":"#111","opacity":1},"encoding":{}},
{"data":{"name":"heads"},"transform":[{"filter":"datum.p=='c' && datum.d=='l'"}],"mark":{"type":"point","shape":"triangle-left","filled":true,"size":40,"color":"#111","opacity":1},"encoding":{}}
],
"resolve":{"axis":{"x":"independent","y":"independent"}}},
{"width":460,"height":338,
"encoding":{"x":{"field":"t","type":"quantitative","scale":{"domain":[0,0.2],"nice":false,"zero":false},"axis":null},"y":{"field":"v","type":"quantitative","scale":{"domain":[-10,12],"nice":false,"zero":false},"axis":null}},
"layer":[
{"data":{"name":"box"},"transform":[{"filter":"datum.p=='b'"}],"mark":{"type":"rect","cornerRadius":13,"fill":"white","stroke":"#111","strokeWidth":2},"encoding":{"x2":{"field":"t2"},"y2":{"field":"v2"}}},
{"data":{"name":"rules"},"transform":[{"filter":"datum.p=='b'"}],"mark":{"type":"rule","color":"#111","strokeWidth":1.8},"encoding":{
"x":{"field":"t","type":"quantitative","scale":{"domain":[0,0.2],"nice":false,"zero":false},"axis":{"orient":"bottom","offset":-308,"values":[0.09,0.1,0.11,0.12,0.13,0.14,0.15,0.16,0.17,0.18,0.19],"labels":false,"domain":false,"title":null,"tickSize":{"condition":{"test":"round(datum.value*100)%5==0","value":7},"value":3}}},
"y":{"field":"v","type":"quantitative","scale":{"domain":[-10,12],"nice":false,"zero":false},"axis":{"orient":"left","offset":-460,"values":[-9,-8,-7,-6,-5,-4,-3,-2,-1,1,2,3,4,5,6,7,8,9],"labels":false,"domain":false,"title":null,"tickSize":{"condition":{"test":"abs(datum.value)==5","value":6},"value":3}}},
"x2":{"field":"t2"},"y2":{"field":"v2"}}},
{"data":{"name":"sig"},"transform":[{"filter":"datum.p=='b'"}],"mark":{"type":"line","color":"#111","strokeWidth":1.8,"strokeJoin":"round"},"encoding":{
"x":{"field":"t","type":"quantitative","scale":{"domain":[0,0.2],"nice":false,"zero":false},"axis":{"orient":"bottom","values":[0,0.01,0.02,0.03,0.04,0.05,0.06,0.07,0.08,0.09,0.1,0.11,0.12,0.13,0.14,0.15,0.16,0.17,0.18,0.19,0.2],"labelExpr":"datum.value==0?'0':round(datum.value*100)==10?'0.1':round(datum.value*100)==20?'0.2 [sec]':''","labelFlush":false,"labelOverlap":false,"labelPadding":2,"title":null,"tickSize":{"condition":{"test":"round(datum.value*100)%5==0","value":7},"value":3},"labelAlign":{"condition":{"test":"datum.value>0.19","value":"left"},"value":"center"},"labelOffset":{"condition":{"test":"datum.value>0.19","value":-13},"value":0}}},
"y":{"field":"v","type":"quantitative","scale":{"domain":[-10,12],"nice":false,"zero":false},"axis":{"orient":"left","values":[-10,-9,-8,-7,-6,-5,-4,-3,-2,-1,0,1,2,3,4,5,6,7,8,9,10],"labelExpr":"datum.value==10?'10':datum.value==4?'4':datum.value==0?'0':datum.value==-4?'- 4':datum.value==-10?'- 10':''","labelOverlap":false,"labelFlush":false,"labelPadding":2,"tickSize":{"condition":{"test":"datum.value==10||datum.value==4||datum.value==0||datum.value==-4||datum.value==-10","value":8},"value":3},"title":"[Nm]","titleAngle":0,"titleAlign":"left","titleBaseline":"middle","titleX":-55,"titleY":-3}},
"detail":{"field":"s"}}},
{"data":{"name":"txt"},"transform":[{"filter":"datum.p=='b' && datum.k=='box'"}],"mark":{"type":"text","font":"Liberation Serif","fontSize":27,"fontWeight":"bold","align":"left","baseline":"middle","color":"#111"},"encoding":{"text":{"field":"label"}}},
{"data":{"name":"txt"},"transform":[{"filter":"datum.p=='b' && datum.k=='ann'"}],"mark":{"type":"text","font":"Liberation Serif","fontSize":18,"fontWeight":"bold","align":"left","baseline":"middle","color":"#111"},"encoding":{"text":{"field":"label"}}},
{"data":{"name":"txt"},"transform":[{"filter":"datum.p=='b' && datum.k=='tq'"}],"mark":{"type":"text","font":"Liberation Serif","fontSize":20,"align":"left","baseline":"middle","color":"#111"},"encoding":{"text":{"field":"label"}}},
{"data":{"name":"txt"},"transform":[{"filter":"datum.p=='b' && datum.k=='let'"}],"mark":{"type":"text","font":"DejaVu Sans Mono","fontSize":25,"align":"left","baseline":"middle","color":"#111"},"encoding":{"text":{"field":"label"}}},
{"data":{"name":"heads"},"transform":[{"filter":"datum.p=='b' && datum.d=='u'"}],"mark":{"type":"point","shape":"triangle-up","filled":true,"size":40,"color":"#111","opacity":1},"encoding":{}},
{"data":{"name":"heads"},"transform":[{"filter":"datum.p=='b' && datum.d=='r'"}],"mark":{"type":"point","shape":"triangle-right","filled":true,"size":40,"color":"#111","opacity":1},"encoding":{}},
{"data":{"name":"heads"},"transform":[{"filter":"datum.p=='b' && datum.d=='l'"}],"mark":{"type":"point","shape":"triangle-left","filled":true,"size":40,"color":"#111","opacity":1},"encoding":{}},
{"data":{"name":"heads"},"transform":[{"filter":"datum.p=='b' && datum.d=='ur'"}],"mark":{"type":"point","shape":"triangle-up","angle":58,"filled":true,"size":40,"color":"#111","opacity":1},"encoding":{}}
],
"resolve":{"axis":{"x":"independent","y":"independent"}}},
{"width":460,"height":338,
"encoding":{"x":{"field":"t","type":"quantitative","scale":{"domain":[0,0.2],"nice":false,"zero":false},"axis":null},"y":{"field":"v","type":"quantitative","scale":{"domain":[-10,12],"nice":false,"zero":false},"axis":null}},
"layer":[
{"data":{"name":"box"},"transform":[{"filter":"datum.p=='d'"}],"mark":{"type":"rect","cornerRadius":13,"fill":"white","stroke":"#111","strokeWidth":2},"encoding":{"x2":{"field":"t2"},"y2":{"field":"v2"}}},
{"data":{"name":"rules"},"transform":[{"filter":"datum.p=='d'"}],"mark":{"type":"rule","color":"#111","strokeWidth":1.8},"encoding":{
"x":{"field":"t","type":"quantitative","scale":{"domain":[0,0.2],"nice":false,"zero":false},"axis":{"orient":"bottom","offset":-310,"values":[0.09,0.1,0.11,0.12,0.13,0.14,0.15,0.16,0.17,0.18,0.19],"labels":false,"domain":false,"title":null,"tickSize":{"condition":{"test":"round(datum.value*100)%5==0","value":7},"value":3}}},
"y":{"field":"v","type":"quantitative","scale":{"domain":[-10,12],"nice":false,"zero":false},"axis":{"orient":"left","offset":-460,"values":[-9,-8,-7,-6,-5,-4,-3,-2,-1,1,2,3,4,5,6,7,8,9],"labels":false,"domain":false,"title":null,"tickSize":{"condition":{"test":"abs(datum.value)==5","value":6},"value":3}}},
"x2":{"field":"t2"},"y2":{"field":"v2"}}},
{"data":{"name":"sig"},"transform":[{"filter":"datum.p=='d'"}],"mark":{"type":"line","color":"#111","strokeWidth":1.8,"strokeJoin":"round"},"encoding":{
"x":{"field":"t","type":"quantitative","scale":{"domain":[0,0.2],"nice":false,"zero":false},"axis":{"orient":"bottom","values":[0,0.01,0.02,0.03,0.04,0.05,0.06,0.07,0.08,0.09,0.1,0.11,0.12,0.13,0.14,0.15,0.16,0.17,0.18,0.19,0.2],"labelExpr":"datum.value==0?'0':round(datum.value*100)==10?'0.1':round(datum.value*100)==20?'0.2 [sec]':''","labelFlush":false,"labelOverlap":false,"labelPadding":2,"title":null,"tickSize":{"condition":{"test":"round(datum.value*100)%5==0","value":7},"value":3},"labelAlign":{"condition":{"test":"datum.value>0.19","value":"left"},"value":"center"},"labelOffset":{"condition":{"test":"datum.value>0.19","value":-13},"value":0}}},
"y":{"field":"v","type":"quantitative","scale":{"domain":[-10,12],"nice":false,"zero":false},"axis":{"orient":"left","values":[-10,-9,-8,-7,-6,-5,-4,-3,-2,-1,0,1,2,3,4,5,6,7,8,9,10],"labelExpr":"datum.value==10?'10':datum.value==4?'4':datum.value==0?'0':datum.value==-4?'- 4':datum.value==-10?'- 10':''","labelOverlap":false,"labelFlush":false,"labelPadding":2,"tickSize":{"condition":{"test":"datum.value==10||datum.value==4||datum.value==0||datum.value==-4||datum.value==-10","value":8},"value":3},"title":"[Nm]","titleAngle":0,"titleAlign":"left","titleBaseline":"middle","titleX":-55,"titleY":-3}},
"detail":{"field":"s"}}},
{"data":{"name":"txt"},"transform":[{"filter":"datum.p=='d' && datum.k=='box'"}],"mark":{"type":"text","font":"Liberation Serif","fontSize":27,"fontWeight":"bold","align":"left","baseline":"middle","color":"#111"},"encoding":{"text":{"field":"label"}}},
{"data":{"name":"txt"},"transform":[{"filter":"datum.p=='d' && datum.k=='ann'"}],"mark":{"type":"text","font":"Liberation Serif","fontSize":18,"fontWeight":"bold","align":"left","baseline":"middle","color":"#111"},"encoding":{"text":{"field":"label"}}},
{"data":{"name":"txt"},"transform":[{"filter":"datum.p=='d' && datum.k=='tq'"}],"mark":{"type":"text","font":"Liberation Serif","fontSize":20,"align":"left","baseline":"middle","color":"#111"},"encoding":{"text":{"field":"label"}}},
{"data":{"name":"txt"},"transform":[{"filter":"datum.p=='d' && datum.k=='let'"}],"mark":{"type":"text","font":"DejaVu Sans Mono","fontSize":25,"align":"left","baseline":"middle","color":"#111"},"encoding":{"text":{"field":"label"}}},
{"data":{"name":"heads"},"transform":[{"filter":"datum.p=='d' && datum.d=='u'"}],"mark":{"type":"point","shape":"triangle-up","filled":true,"size":40,"color":"#111","opacity":1},"encoding":{}},
{"data":{"name":"heads"},"transform":[{"filter":"datum.p=='d' && datum.d=='r'"}],"mark":{"type":"point","shape":"triangle-right","filled":true,"size":40,"color":"#111","opacity":1},"encoding":{}},
{"data":{"name":"heads"},"transform":[{"filter":"datum.p=='d' && datum.d=='ur'"}],"mark":{"type":"point","shape":"triangle-up","angle":65,"filled":true,"size":40,"color":"#111","opacity":1},"encoding":{}}
],
"resolve":{"axis":{"x":"independent","y":"independent"}}}
],
"columns":2,
"spacing":{"row":41,"column":125},
"bounds":"flush"
}
